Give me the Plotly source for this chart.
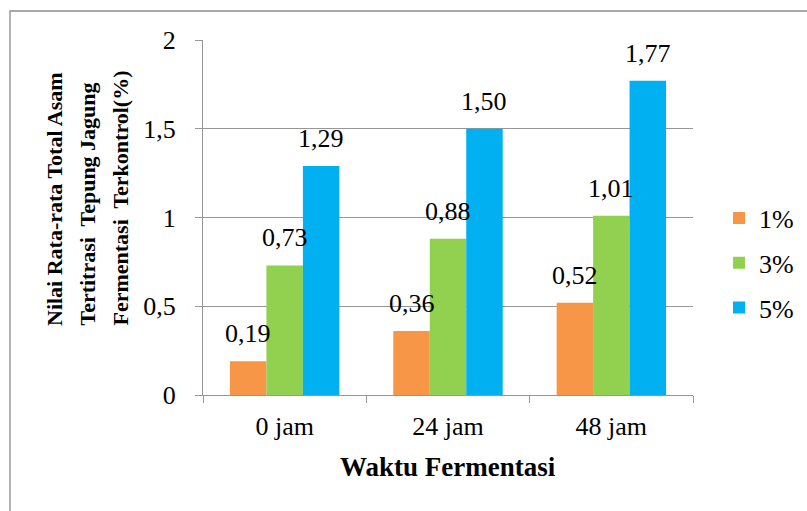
import plotly.graph_objects as go

categories = ["0 jam", "24 jam", "48 jam"]
series_names = ["1%", "3%", "5%"]
values_1 = [0.19, 0.36, 0.52]
values_3 = [0.73, 0.88, 1.01]
values_5 = [1.29, 1.50, 1.77]
colors = ["#F79646", "#92D050", "#00B0F0"]
y_title_lines = ["Nilai Rata-rata Total Asam", "Tertitrasi  Tepung Jagung", "Fermentasi  Terkontrol(%)"]
x_title = "Waktu Fermentasi"

W, H = 807, 511
L, R, T, B = 203, 114, 40, 116
pw, ph = W - L - R, H - T - B
BARGAP = 0.33

FONT = "'Liberation Serif', 'Times New Roman', serif"
fig = go.Figure()
all_vals = [values_1, values_3, values_5]
for name, vals, c in zip(series_names, all_vals, colors):
    fig.add_trace(go.Bar(
        x=categories, y=vals, name=name, marker=dict(color=c, line=dict(width=0)),
        legendgroup=name,
    ))

# data labels
cat_w = pw / len(categories)
bar_w = cat_w * (1 - BARGAP) / 3
annotations = []
for i, vals in enumerate(all_vals):
    for cat, v in zip(categories, vals):
        annotations.append(dict(
            x=cat, y=v, xref="x", yref="y", text=f"{v:.2f}".replace(".", ","),
            showarrow=False, xanchor="center", yanchor="bottom",
            xshift=(i - 1) * bar_w, yshift=11,
            font=dict(family=FONT, size=26, color="black"),
        ))

# y title lines
for k, line in enumerate(y_title_lines):
    xc = 54 + 33 * k
    annotations.append(dict(
        x=(xc - L) / pw, y=(H - B - 328) / ph, xref="paper", yref="paper",
        text=f"<b>{line}</b>", textangle=-90, showarrow=False,
        xanchor="center", yanchor="bottom",
        font=dict(family=FONT, size=22, color="black"),
    ))

# x title
annotations.append(dict(
    x=0.5, y=-(467 - (H - B)) / ph, xref="paper", yref="paper",
    text=f"<b>{x_title}</b>", showarrow=False, xanchor="center", yanchor="middle",
    font=dict(family=FONT, size=27, color="black"),
))

GRID = "#969696"
fig.update_layout(
    width=W, height=H, margin=dict(l=L, r=R, t=T, b=B, autoexpand=False),
    paper_bgcolor="white", plot_bgcolor="white",
    separators=",.",
    barmode="group", bargap=BARGAP, bargroupgap=0,
    font=dict(family=FONT, size=26, color="black"),
    showlegend=True,
    legend=dict(x=(719 - L) / pw, y=(H - B - 263) / ph, xanchor="left", yanchor="middle",
                font=dict(family=FONT, size=26, color="black"), tracegroupgap=8,
                bgcolor="rgba(0,0,0,0)", borderwidth=0),
    annotations=annotations,
    xaxis=dict(showline=True, linecolor=GRID, linewidth=1, ticks="outside", ticklen=7,
               tickcolor=GRID, tickson="boundaries", showgrid=False,
               tickfont=dict(family=FONT, size=26, color="black"), ticklabelstandoff=8),
    yaxis=dict(range=[0, 2], dtick=0.5, showline=True, linecolor=GRID, linewidth=1,
               ticks="outside", ticklen=7, tickcolor=GRID, showgrid=True, gridcolor=GRID,
               gridwidth=1, zeroline=False,
               tickfont=dict(family=FONT, size=26, color="black"), ticklabelstandoff=14),
    shapes=[dict(type="rect", xref="paper", yref="paper",
                 x0=(10 - L) / pw, x1=(W + 20 - L) / pw,
                 y0=-(H + 20 - (H - B)) / ph, y1=(H - B - 11) / ph,
                 line=dict(color="#8c8c8c", width=1.3), fillcolor="rgba(0,0,0,0)", layer="below")],
)

fig.write_html("out.html")
